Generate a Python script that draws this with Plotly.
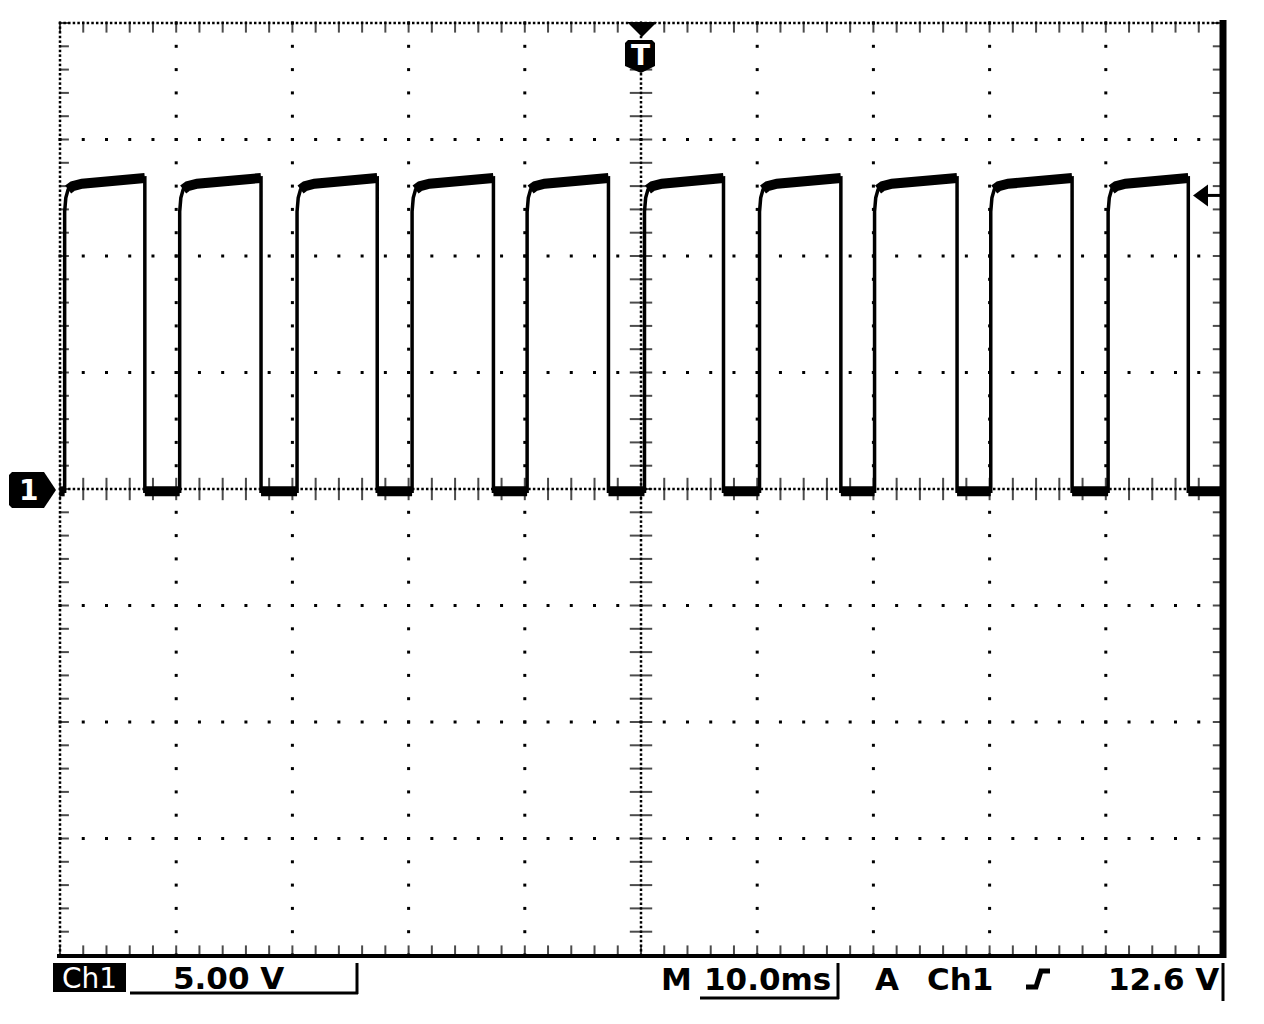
import numpy as np
import plotly.graph_objects as go

time_range_ms = [-50.0, 50.0]      # 10 div x 10.0 ms, trigger at centre
volt_range_v = [-20.0, 20.0]       # 8 div x 5.00 V, ground at centre
time_per_div_ms = 10.0
volts_per_div = 5.0

rise_times_ms = [-49.6, -39.7, -29.6, -19.7, -9.8, 0.3, 10.2, 20.1, 30.1, 40.2]
fall_times_ms = [-42.7, -32.7, -22.7, -12.7, -2.8, 7.1, 17.2, 27.2, 37.1, 47.1]
low_level_v = -0.1
edge_offsets_ms = [0.0, 0.1, 0.3, 0.7, 1.5]      # shape of the top after each rising edge
edge_levels_v = [11.9, 12.5, 12.85, 13.0, 13.1]
top_end_level_v = 13.35
trigger_level_v = 12.6

ch_label = "Ch1"
scale_label = "5.00 V"
time_label = "10.0ms"
trig_source = "Ch1"
trig_level_label = "12.6 V"

# ---------------- layout geometry ----------------
# the page body adds an 8 px margin, so the figure is shifted back by 8 px
BODY = 8
SL, ST, SR, SB = 60, 23, 1222, 955      # plot area in screen pixels
PW, PH = SR - SL, SB - ST
W, H = 1264 - 2 * BODY, 1024 - 2 * BODY
L, T = SL - BODY, ST - BODY
R, B = W - L - PW, H - T - PH
ms_per_px = (time_range_ms[1] - time_range_ms[0]) / PW
v_per_px = (volt_range_v[1] - volt_range_v[0]) / PH


def px(x):
    return (x - SL) / PW


def py(y):
    return (SB - y) / PH


# ---------------- waveform ----------------
xs, ys = [time_range_ms[0]], [low_level_v]
top_x, top_y, low_x, low_y = [], [], [], []
prev = time_range_ms[0]
for r, f in zip(rise_times_ms, fall_times_ms):
    low_x += [prev, r, None]
    low_y += [low_level_v, low_level_v, None]
    xs.append(r)
    ys.append(low_level_v)
    for dt, v in zip(edge_offsets_ms, edge_levels_v):
        xs.append(r + dt)
        ys.append(v)
    xs += [f, f]
    ys += [top_end_level_v, low_level_v]
    for dt, v in zip(edge_offsets_ms[2:], edge_levels_v[2:]):
        top_x.append(r + dt)
        top_y.append(v)
    top_x += [f, None]
    top_y += [top_end_level_v, None]
    prev = f
xs.append(time_range_ms[1])
ys.append(low_level_v)
low_x += [prev, time_range_ms[1]]
low_y += [low_level_v, low_level_v]

fig = go.Figure()

# ---------------- graticule ----------------
x0, x1 = time_range_ms
y0, y1 = volt_range_v
minor_x = time_per_div_ms / 5
minor_y = volts_per_div / 5
gx, gy = [], []
for yv in np.arange(y0 + volts_per_div, y1, volts_per_div):
    if abs(yv) < 1e-9:
        continue
    xx = np.arange(x0, x1 + 1e-9, minor_x)
    gx += list(xx)
    gy += [yv] * len(xx)
for xv in np.arange(x0 + time_per_div_ms, x1, time_per_div_ms):
    if abs(xv) < 1e-9:
        continue
    yy = np.arange(y0, y1 + 1e-9, minor_y)
    gx += [xv] * len(yy)
    gy += list(yy)
fig.add_trace(go.Scatter(x=gx, y=gy, mode="markers", cliponaxis=False,
                         marker=dict(symbol="square", size=3, color="black",
                                     line=dict(width=0)), hoverinfo="skip"))

# dense centre lines and edges
dx = np.arange(x0, x1 + 1e-9, minor_x / 5)
dy = np.arange(y0, y1 + 1e-9, minor_y / 5)
fig.add_trace(go.Scatter(
    x=list(dx) + list(dx) + [0.0] * len(dy) + [x0] * len(dy),
    y=[0.0] * len(dx) + [y1] * len(dx) + list(dy) + list(dy),
    mode="markers", cliponaxis=False,
    marker=dict(symbol="square", size=2.5, color="black", line=dict(width=0)),
    hoverinfo="skip"))

tx = np.arange(x0, x1 + 1e-9, minor_x)
ty = np.arange(y0, y1 + 1e-9, minor_y)
# vertical tick marks on the horizontal centre line / top / bottom edges
fig.add_trace(go.Scatter(
    x=list(tx) + list(tx) + list(tx),
    y=[0.0] * len(tx) + [y1 - 4 * v_per_px] * len(tx) + [y0 + 4 * v_per_px] * len(tx),
    mode="markers", cliponaxis=False,
    marker=dict(symbol="line-ns", size=[16] * len(tx) + [8] * len(tx) + [8] * len(tx),
                line=dict(width=2, color="black")),
    hoverinfo="skip"))
# horizontal tick marks on the vertical centre line / left / right edges
fig.add_trace(go.Scatter(
    x=[0.0] * len(ty) + [x0 + 4 * ms_per_px] * len(ty) + [x1 - 5 * ms_per_px] * len(ty),
    y=list(ty) + list(ty) + list(ty),
    mode="markers", cliponaxis=False,
    marker=dict(symbol="line-ew", size=[16] * len(ty) + [7] * len(ty) + [6] * len(ty),
                line=dict(width=2, color="black")),
    hoverinfo="skip"))

# ---------------- trace ----------------
fig.add_trace(go.Scatter(x=low_x, y=low_y, mode="lines", line=dict(color="black", width=10),
                         hoverinfo="skip"))
fig.add_trace(go.Scatter(x=top_x, y=top_y, mode="lines", line=dict(color="black", width=10),
                         hoverinfo="skip"))
fig.add_trace(go.Scatter(x=xs, y=ys, mode="lines", line=dict(color="black", width=3.5),
                         hoverinfo="skip"))

shapes = []
# thick right and bottom frame bars
shapes.append(dict(type="line", xref="paper", yref="paper", x0=px(1223), x1=px(1223),
                   y0=py(20), y1=py(958), line=dict(color="black", width=7)))
shapes.append(dict(type="line", xref="paper", yref="paper", x0=px(57), x1=px(1226),
                   y0=py(956), y1=py(956), line=dict(color="black", width=4)))


def path(points, close=True):
    s = "M " + " L ".join(f"{px(a):.5f},{py(b):.5f}" for a, b in points)
    return s + (" Z" if close else "")


# trigger position marker (top)
shapes.append(dict(type="path", xref="paper", yref="paper",
                   path=path([(627, 22), (657, 22), (642, 37)]),
                   fillcolor="black", line=dict(width=0)))
shapes.append(dict(type="path", xref="paper", yref="paper",
                   path=path([(628, 40), (652, 40), (655, 43), (655, 66), (641, 73),
                              (625, 66), (625, 43)]),
                   fillcolor="black", line=dict(width=0)))
# channel 1 ground marker (left)
shapes.append(dict(type="path", xref="paper", yref="paper",
                   path=path([(12, 472), (44, 472), (56, 490), (44, 508), (12, 508),
                              (9, 505), (9, 475)]),
                   fillcolor="black", line=dict(width=0)))
# trigger level arrow (right)
ty_px = SB - (trigger_level_v - y0) / v_per_px
shapes.append(dict(type="path", xref="paper", yref="paper",
                   path=path([(1193, ty_px), (1208, ty_px - 11), (1208, ty_px + 11)]),
                   fillcolor="black", line=dict(width=0)))
shapes.append(dict(type="line", xref="paper", yref="paper", x0=px(1206), x1=px(1220),
                   y0=py(ty_px), y1=py(ty_px), line=dict(color="black", width=3)))

# readout boxes
shapes.append(dict(type="rect", xref="paper", yref="paper", x0=px(53), x1=px(126),
                   y0=py(992), y1=py(963), fillcolor="black", line=dict(width=0)))
for (a, b, c, d) in [(130, 993, 358, 993), (357, 963, 357, 994),
                     (700, 998, 839, 998), (838, 963, 838, 999),
                     (1223, 963, 1223, 1001)]:
    shapes.append(dict(type="line", xref="paper", yref="paper", x0=px(a), x1=px(c),
                       y0=py(b), y1=py(d), line=dict(color="black", width=3)))
# rising-edge slope symbol
shapes.append(dict(type="path", xref="paper", yref="paper",
                   path=path([(1026, 987), (1036, 987), (1041, 971), (1050, 971)], close=False),
                   line=dict(color="black", width=5)))

bold = dict(family="DejaVu Sans", size=31, color="black", weight="bold")
ann = []


def label(text, x, y, font):
    ann.append(dict(text=text, xref="paper", yref="paper", x=px(x), y=py(y),
                    xanchor="center", yanchor="middle", showarrow=False, font=font))


label(ch_label, 89, 978, dict(family="DejaVu Sans", size=28, color="white"))
label(scale_label, 228, 978, bold)
label("M", 676, 979, bold)
label(time_label, 768, 979, bold)
label("A", 887, 979, bold)
label(trig_source, 960, 979, bold)
label(trig_level_label, 1163, 979, bold)
label("T", 640, 55, dict(family="DejaVu Sans", size=28, color="white", weight="bold"))
label("1", 28, 490, dict(family="DejaVu Sans", size=28, color="white", weight="bold"))

fig.update_layout(
    width=W, height=H,
    margin=dict(l=L, r=R, t=T, b=B, pad=0),
    paper_bgcolor="white", plot_bgcolor="white",
    showlegend=False, hovermode=False,
    shapes=shapes, annotations=ann,
    xaxis=dict(range=time_range_ms, showgrid=False, zeroline=False, showticklabels=False,
               ticks="", showline=False, fixedrange=True),
    yaxis=dict(range=volt_range_v, showgrid=False, zeroline=False, showticklabels=False,
               ticks="", showline=False, fixedrange=True),
)

fig.write_html("out.html")
